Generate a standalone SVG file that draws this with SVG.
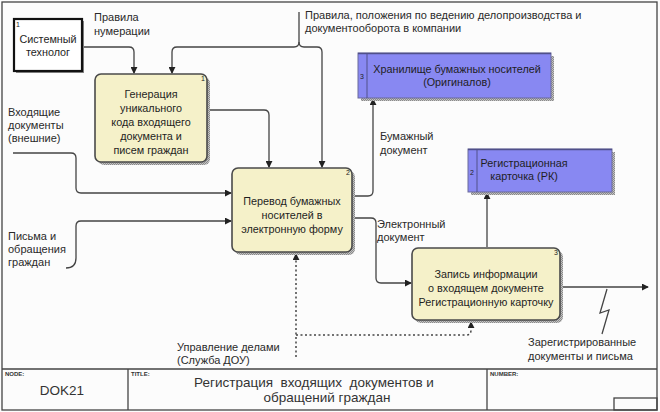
<svg xmlns="http://www.w3.org/2000/svg" width="660" height="412" viewBox="0 0 660 412">
<style>
.lbl{font-family:"Liberation Sans",Arial,sans-serif;font-size:11px;fill:#2a2a2a}
.box{font-family:"Liberation Sans",Arial,sans-serif;font-size:10.8px;fill:#1e1e1e;text-anchor:middle}
.num{font-family:"Liberation Sans",Arial,sans-serif;font-size:7px;fill:#222}
.tiny{font-family:"Liberation Sans",Arial,sans-serif;font-size:6px;font-weight:bold;fill:#333}
.ttl{font-family:"Liberation Sans",Arial,sans-serif;font-size:13.5px;fill:#333}
.act{fill:#f5f1c9;stroke:#4a4a4a;stroke-width:1.6}
.shd{fill:url(#hatch)}
.store{fill:#8888f2;stroke:#6a6a9a;stroke-width:1}
.conn{fill:none;stroke:#444;stroke-width:1.3}
.dot{fill:none;stroke:#444;stroke-width:1.5;stroke-dasharray:2 2.5}
.frame{fill:none;stroke:#444;stroke-width:1.3}
</style>
<defs>
<marker id="ah" viewBox="0 0 8 8" refX="7" refY="4" markerWidth="7" markerHeight="7" markerUnits="userSpaceOnUse" orient="auto">
<path d="M0,0 L8,4 L0,8 Z" fill="#222"/>
</marker>
<pattern id="hatch" width="2" height="2" patternUnits="userSpaceOnUse">
<rect width="2" height="2" fill="#c4c4c4"/>
<rect width="1" height="1" fill="#8a8a8a"/>
<rect x="1" y="1" width="1" height="1" fill="#8a8a8a"/>
</pattern>
</defs>
<rect x="0" y="0" width="660" height="412" fill="#fcfcfc"/>
<g id="frame">
<rect class="frame" x="2" y="2" width="655" height="408"/>
<line class="frame" x1="2" y1="369" x2="657" y2="369"/>
<line class="frame" x1="128" y1="369" x2="128" y2="410"/>
<line class="frame" x1="487" y1="369" x2="487" y2="410"/>
<rect class="frame" x="614" y="398" width="43" height="12"/>
<text class="tiny" x="5" y="376">NODE:</text>
<text class="tiny" x="131" y="376">TITLE:</text>
<text class="tiny" x="490" y="376">NUMBER:</text>
<text class="ttl" x="62" y="395" text-anchor="middle">DOK21</text>
<text class="ttl" x="314" y="387" text-anchor="middle" xml:space="preserve">Регистрация  входящих  документов и</text>
<text class="ttl" x="327" y="402" text-anchor="middle">обращений граждан</text>
</g>
<g id="connectors">
<path class="conn" d="M82,47 L129,47 Q134,47 134,52 L134,73" marker-end="url(#ah)"/>
<path class="conn" d="M299,12 L299,42 Q299,47 294,47 L177,47 Q172,47 172,52 L172,73" marker-end="url(#ah)"/>
<path class="conn" d="M299,42 Q299,47 304,47 L317,47 Q322,47 322,52 L322,167" marker-end="url(#ah)"/>
<path class="conn" d="M207,110 L264,110 Q269,110 269,115 L269,167" marker-end="url(#ah)"/>
<path class="conn" d="M13,153 L71,153 Q76,153 76,158 L76,188 Q76,193 81,193 L231,193" marker-end="url(#ah)"/>
<path class="conn" d="M66,268 Q76,268 76,258 L76,226 Q76,221 81,221 L231,221" marker-end="url(#ah)"/>
<path class="conn" d="M352,196 L368,196 Q373,196 373,191 L373,99" marker-end="url(#ah)"/>
<path class="conn" d="M352,218 L371,218 Q376,218 376,223 L376,278 Q376,283 381,283 L411,283" marker-end="url(#ah)"/>
<path class="conn" d="M487,247 L487,193" marker-end="url(#ah)"/>
<path class="conn" d="M560,287 L648,287" marker-end="url(#ah)"/>
<path class="conn" d="M607,289 L600,313 L609,310 L602,334"/>
<path class="dot" d="M296,357 L296,254" marker-end="url(#ah)"/>
<path class="dot" d="M296,335 L466,335 Q471,335 471,330 L471,322" marker-end="url(#ah)"/>
<text class="lbl" x="94" y="21">Правила</text>
<text class="lbl" x="94" y="35">нумерации</text>
<text class="lbl" x="305" y="19">Правила, положения по ведению делопроизводства и</text>
<text class="lbl" x="305" y="32">документооборота в компании</text>
<text class="lbl" x="8" y="116">Входящие</text>
<text class="lbl" x="8" y="129">документы</text>
<text class="lbl" x="8" y="142">(внешние)</text>
<text class="lbl" x="8" y="240">Письма и</text>
<text class="lbl" x="8" y="253">обращения</text>
<text class="lbl" x="8" y="266">граждан</text>
<text class="lbl" x="380" y="140">Бумажный</text>
<text class="lbl" x="380" y="154">документ</text>
<text class="lbl" x="377" y="228">Электронный</text>
<text class="lbl" x="377" y="241">документ</text>
<text class="lbl" x="177" y="351">Управление делами</text>
<text class="lbl" x="177" y="364">(Служба ДОУ)</text>
<text class="lbl" x="528" y="346">Зарегистрированные</text>
<text class="lbl" x="528" y="360">документы и письма</text>
</g>
<g id="node-tech">
<rect x="16" y="21" width="68" height="52" fill="#888"/>
<rect x="14" y="19" width="68" height="52" fill="#fff" stroke="#111" stroke-width="2.2"/>
<text class="num" x="16" y="27">1</text>
<text class="box" x="48" y="43">Системный</text>
<text class="box" x="48" y="56">технолог</text>
</g>
<g id="node-a1">
<rect class="shd" x="98" y="77" width="112" height="88" rx="6"/>
<rect class="act" x="95" y="74" width="112" height="88" rx="6"/>
<text class="num" x="201" y="81">1</text>
<text class="box" x="151" y="98">Генерация</text>
<text class="box" x="151" y="112">уникального</text>
<text class="box" x="151" y="126">кода входящего</text>
<text class="box" x="151" y="140">документа и</text>
<text class="box" x="151" y="154">писем граждан</text>
</g>
<g id="node-a2">
<rect class="shd" x="235" y="171" width="120" height="84" rx="6"/>
<rect class="act" x="232" y="168" width="120" height="84" rx="6"/>
<text class="num" x="346" y="175">2</text>
<text class="box" x="292" y="205">Перевод бумажных</text>
<text class="box" x="292" y="219">носителей в</text>
<text class="box" x="292" y="233">электронную форму</text>
</g>
<g id="node-a3">
<rect class="shd" x="415" y="251" width="148" height="72" rx="6"/>
<rect class="act" x="412" y="248" width="148" height="72" rx="6"/>
<text class="num" x="554" y="255">3</text>
<text class="box" x="486" y="278">Запись информации</text>
<text class="box" x="486" y="292">о входящем документе</text>
<text class="box" x="486" y="306">Регистрационную карточку</text>
</g>
<g id="node-store3">
<rect class="shd" x="361" y="56" width="193" height="45"/>
<rect class="store" x="358" y="53" width="193" height="45"/>
<line x1="358" y1="53.5" x2="551" y2="53.5" stroke="#50508a" stroke-width="1.5"/>
<line x1="367" y1="53" x2="367" y2="98" stroke="#50508a" stroke-width="1"/>
<text class="num" x="360" y="79">3</text>
<text class="box" x="457" y="73">Хранилище бумажных носителей</text>
<text class="box" x="457" y="86">(Оригиналов)</text>
</g>
<g id="node-store2">
<rect class="shd" x="471" y="152" width="144" height="43"/>
<rect class="store" x="468" y="149" width="144" height="43"/>
<line x1="468" y1="149.5" x2="612" y2="149.5" stroke="#50508a" stroke-width="1.5"/>
<line x1="477" y1="149" x2="477" y2="192" stroke="#50508a" stroke-width="1"/>
<text class="num" x="470" y="175">2</text>
<text class="box" x="524" y="167">Регистрационная</text>
<text class="box" x="524" y="180">карточка (РК)</text>
</g>
</svg>
